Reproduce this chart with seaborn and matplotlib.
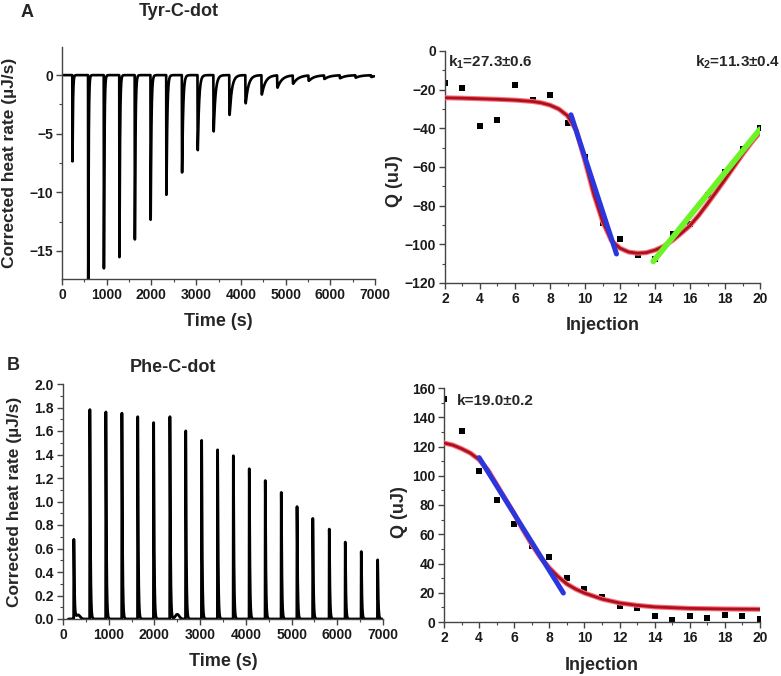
import numpy as np
import pandas as pd
import matplotlib
matplotlib.use("Agg")
import matplotlib.pyplot as plt
import seaborn as sns
from matplotlib.ticker import MultipleLocator

# ---------------- data ----------------
# Panel A (Tyr-C-dot) thermogram: injection times (s), peak minima (uJ/s), recovery constants (s)
tyr_inj_time = [230, 582, 933, 1280, 1625, 1978, 2330, 2680, 3030, 3385,
                3740, 4100, 4460, 4810, 5160, 5510, 5860, 6210, 6560, 6910]
tyr_peak = [-7.3, -17.4, -16.4, -15.5, -14.0, -12.3, -10.2, -8.3, -6.4, -4.8,
            -3.4, -2.4, -1.65, -1.05, -0.7, -0.45, -0.3, -0.25, -0.2, -0.15]
tyr_tau = [10, 10, 11, 12, 13, 15, 18, 22, 28, 38,
           50, 62, 80, 100, 115, 120, 120, 120, 120, 120]

# Panel A integrated heats
tyr_inj = list(range(2, 21))
tyr_q = [-16.8, -19.3, -38.9, -35.8, -17.5, -25.4, -22.9, -37.1, -55.0, -89.0,
         -97.3, -105.4, -107.4, -94.5, -89.4, -74.4, -62.4, -50.7, -39.7]
tyr_fit_x = [2, 3, 4, 5, 6, 7, 7.5, 8, 8.5, 9, 9.5, 10, 10.5, 11, 11.5, 12, 12.5,
             13, 13.5, 14, 14.5, 15, 15.5, 16, 16.5, 17, 17.5, 18, 18.5, 19, 19.5, 20]
tyr_fit_y = [-24.2, -24.4, -24.7, -25.0, -25.4, -26.1, -26.8, -28.0, -30.0, -33.5,
             -41.0, -57.0, -74.0, -88.0, -98.0, -102.0, -104.0, -104.6, -104.3, -103.0,
             -101.0, -98.0, -94.3, -90.3, -85.0, -79.0, -72.8, -66.5, -60.0, -53.5,
             -47.5, -42.0]
tyr_blue_x = [9.2, 11.8]
tyr_blue_y = [-33.0, -105.0]
tyr_green_x = [13.9, 20.0]
tyr_green_y = [-108.8, -40.5]

# Panel B (Phe-C-dot) thermogram
phe_inj_time = [233, 583, 933, 1284, 1630, 1978, 2334, 2680, 3028, 3377,
                3722, 4070, 4420, 4770, 5115, 5460, 5820, 6170, 6520, 6878]
phe_peak = [0.67, 1.77, 1.75, 1.74, 1.71, 1.66, 1.71, 1.59, 1.51, 1.43,
            1.38, 1.27, 1.17, 1.07, 0.95, 0.85, 0.76, 0.65, 0.57, 0.50]
phe_bump_time = [330, 2500]
phe_bump_amp = [0.035, 0.04]

# Panel B integrated heats
phe_inj = list(range(2, 21))
phe_q = [152.4, 130.8, 103.0, 83.2, 67.3, 52.0, 44.3, 30.4, 22.6, 17.1,
         10.9, 9.8, 3.9, 1.6, 4.3, 2.7, 4.6, 4.3, 2.3]
phe_fit_x = [2, 2.5, 3, 3.5, 4, 4.5, 5, 5.5, 6, 6.5, 7, 7.5, 8, 8.5, 9, 9.5,
             10, 11, 12, 13, 14, 16, 18, 20]
phe_fit_y = [122.4, 121.0, 118.5, 115.5, 111.0, 104.0, 94.0, 84.0, 74.0, 63.0,
             53.0, 44.0, 37.0, 31.0, 26.0, 22.5, 19.8, 15.7, 13.0, 11.4,
             10.3, 9.3, 8.9, 8.7]
phe_blue_x = [4.0, 8.8]
phe_blue_y = [112.4, 19.8]

# ---------------- build thermogram traces from peak parameters ----------------
def peak_trace(t, times, amps, taus, rise):
    y = np.zeros_like(t)
    for t0, a, tau in zip(times, amps, taus):
        dt = t - t0
        m = dt >= 0
        shape = np.zeros_like(t)
        shape[m] = (1 - np.exp(-dt[m] / rise)) * np.exp(-dt[m] / tau)
        tp = rise * tau / (tau - rise) * np.log(tau / rise)
        norm = (1 - np.exp(-tp / rise)) * np.exp(-tp / tau)
        y += a * shape / norm
    return y

t_tyr = np.arange(30, 6985, 1.0)
y_tyr = peak_trace(t_tyr, tyr_inj_time, tyr_peak, tyr_tau, 2.5)
df_tyr = pd.DataFrame({"t": t_tyr, "y": y_tyr})

t_phe = np.arange(120, 6985, 1.0)
y_phe = peak_trace(t_phe, phe_inj_time, phe_peak, [11] * len(phe_peak), 3.0)
for bt, ba in zip(phe_bump_time, phe_bump_amp):
    y_phe += ba * np.exp(-((t_phe - bt) / 60.0) ** 2)
df_phe = pd.DataFrame({"t": t_phe, "y": y_phe})

# ---------------- styling ----------------
sns.set_theme(style="ticks")
plt.rcParams["font.family"] = ["Liberation Sans", "DejaVu Sans"]
plt.rcParams["font.weight"] = "bold"
plt.rcParams["axes.labelweight"] = "bold"
plt.rcParams["mathtext.fontset"] = "custom"
plt.rcParams["mathtext.rm"] = "Liberation Sans:bold"
plt.rcParams["mathtext.bf"] = "Liberation Sans:bold"
plt.rcParams["mathtext.default"] = "bf"

W, H = 781, 676
fig = plt.figure(figsize=(W / 100, H / 100), dpi=100)

def px_axes(l, r, t, b):
    return fig.add_axes([l / W, 1 - b / H, (r - l) / W, (b - t) / H])

axA = px_axes(62, 375, 47, 279)
axA2 = px_axes(445, 760, 51, 283)
axB = px_axes(63, 383, 384, 619)
axB2 = px_axes(444, 760, 388, 622)

def style(ax):
    sns.despine(ax=ax)
    for s in ["left", "bottom"]:
        ax.spines[s].set_color("#444444")
        ax.spines[s].set_linewidth(1.0)
    ax.tick_params(which="major", direction="out", length=4, width=1,
                   color="#444444", labelsize=10, pad=2.5, labelcolor="#1a1a1a")
    ax.tick_params(which="minor", direction="out", length=2, width=0.8,
                   color="#444444")
    for lab in ax.get_xticklabels() + ax.get_yticklabels():
        lab.set_fontweight("bold")

RED_HALO = "#ff6a7a"
RED = "#a8121c"
BLUE = "#2b36dc"
GREEN = "#6ef22a"
LABEL_FS = 12.5

# ---- Panel A thermogram ----
sns.lineplot(data=df_tyr, x="t", y="y", ax=axA, color="black", lw=1.9,
             estimator=None, sort=False)
axA.set_xlim(0, 7000)
axA.set_ylim(-17.4, 2.4)
axA.xaxis.set_major_locator(MultipleLocator(1000))
axA.xaxis.set_minor_locator(MultipleLocator(500))
axA.yaxis.set_major_locator(MultipleLocator(5))
axA.yaxis.set_minor_locator(MultipleLocator(2.5))
axA.set_xlabel("Time (s)", fontsize=13, fontweight="bold")
axA.set_ylabel("Corrected heat rate (\u00b5J/s)", fontsize=LABEL_FS, fontweight="bold")
axA.xaxis.set_label_coords(0.5, -0.145)
axA.yaxis.set_label_coords(-0.143, 0.5)
style(axA)

# ---- Panel A isotherm ----
sns.scatterplot(x=tyr_inj, y=tyr_q, ax=axA2, marker="s", s=24, color="black",
                edgecolor="black", linewidth=0, zorder=2)
sns.lineplot(x=tyr_fit_x, y=tyr_fit_y, ax=axA2, color=RED_HALO, lw=3.6,
             estimator=None, sort=False, zorder=3)
sns.lineplot(x=tyr_fit_x, y=tyr_fit_y, ax=axA2, color=RED, lw=2.0,
             estimator=None, sort=False, zorder=4)
sns.lineplot(x=tyr_blue_x, y=tyr_blue_y, ax=axA2, color=BLUE, lw=3.6,
             estimator=None, sort=False, zorder=5)
sns.lineplot(x=tyr_green_x, y=tyr_green_y, ax=axA2, color=GREEN, lw=4.2,
             estimator=None, sort=False, zorder=5)
axA2.set_xlim(2, 20)
axA2.set_ylim(-120, 0)
axA2.xaxis.set_major_locator(MultipleLocator(2))
axA2.xaxis.set_minor_locator(MultipleLocator(1))
axA2.yaxis.set_major_locator(MultipleLocator(20))
axA2.yaxis.set_minor_locator(MultipleLocator(10))
axA2.set_xlabel("Injection", fontsize=13, fontweight="bold")
axA2.set_ylabel("Q (uJ)", fontsize=13, fontweight="bold")
axA2.xaxis.set_label_coords(0.5, -0.147)
axA2.yaxis.set_label_coords(-0.133, 0.44)
axA2.text(2.17, -5.7, "k$_1$=27.3\u00b10.6", fontsize=11, fontweight="bold",
          va="center", ha="left")
axA2.text(16.29, -5.7, "k$_2$=11.3\u00b10.4", fontsize=11, fontweight="bold",
          va="center", ha="left", clip_on=False)
style(axA2)

# ---- Panel B thermogram ----
sns.lineplot(data=df_phe, x="t", y="y", ax=axB, color="black", lw=2.0,
             estimator=None, sort=False)
axB.set_xlim(0, 7000)
axB.set_ylim(0, 2.0)
axB.xaxis.set_major_locator(MultipleLocator(1000))
axB.xaxis.set_minor_locator(MultipleLocator(500))
axB.yaxis.set_major_locator(MultipleLocator(0.2))
axB.yaxis.set_minor_locator(MultipleLocator(0.1))
axB.yaxis.set_major_formatter(matplotlib.ticker.FormatStrFormatter("%.1f"))
axB.set_xlabel("Time (s)", fontsize=13, fontweight="bold")
axB.set_ylabel("Corrected heat rate (\u00b5J/s)", fontsize=LABEL_FS, fontweight="bold")
axB.xaxis.set_label_coords(0.5, -0.145)
axB.yaxis.set_label_coords(-0.128, 0.5)
style(axB)

# ---- Panel B isotherm ----
sns.scatterplot(x=phe_inj, y=phe_q, ax=axB2, marker="s", s=24, color="black",
                edgecolor="black", linewidth=0, zorder=2)
sns.lineplot(x=phe_fit_x, y=phe_fit_y, ax=axB2, color=RED_HALO, lw=3.6,
             estimator=None, sort=False, zorder=3)
sns.lineplot(x=phe_fit_x, y=phe_fit_y, ax=axB2, color=RED, lw=2.0,
             estimator=None, sort=False, zorder=4)
sns.lineplot(x=phe_blue_x, y=phe_blue_y, ax=axB2, color=BLUE, lw=3.6,
             estimator=None, sort=False, zorder=5)
axB2.set_xlim(2, 20)
axB2.set_ylim(0, 160)
axB2.xaxis.set_major_locator(MultipleLocator(2))
axB2.xaxis.set_minor_locator(MultipleLocator(1))
axB2.yaxis.set_major_locator(MultipleLocator(20))
axB2.yaxis.set_minor_locator(MultipleLocator(10))
axB2.set_xlabel("Injection", fontsize=13, fontweight="bold")
axB2.set_ylabel("Q (uJ)", fontsize=13, fontweight="bold")
axB2.xaxis.set_label_coords(0.5, -0.150)
axB2.yaxis.set_label_coords(-0.114, 0.47)
axB2.text(2.74, 151, "k=19.0\u00b10.2", fontsize=11, fontweight="bold",
          va="center", ha="left")
style(axB2)

# ---- panel letters and titles ----
fig.text(27 / W, 1 - 12.5 / H, "A", fontsize=13, fontweight="bold", ha="center", va="center")
fig.text(179 / W, 1 - 12 / H, "Tyr-C-dot", fontsize=13, fontweight="bold", ha="center", va="center")
fig.text(13 / W, 1 - 366 / H, "B", fontsize=13, fontweight="bold", ha="center", va="center")
fig.text(173 / W, 1 - 367 / H, "Phe-C-dot", fontsize=13, fontweight="bold", ha="center", va="center")

fig.savefig("out.png", dpi=100)
